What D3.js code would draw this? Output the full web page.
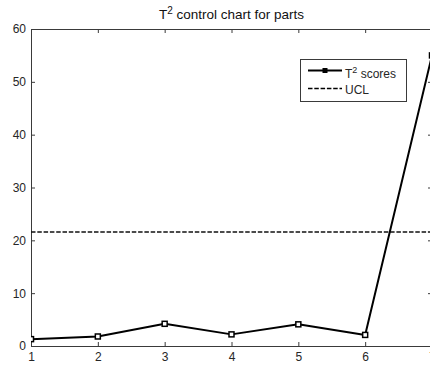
<!DOCTYPE html>
<html>
<head>
<meta charset="utf-8">
<script src="https://cdn.jsdelivr.net/npm/d3@7"></script>
<style>
  html, body { margin: 0; padding: 0; background: #fff; }
  svg { display: block; font-family: "Liberation Sans", Arial, sans-serif; }
</style>
</head>
<body>
<svg id="chart" width="430" height="366"></svg>
<script>
// Sample numbers and their Hotelling T² statistics
const samples = [1, 2, 3, 4, 5, 6, 7];
const t2Scores = [1.3, 1.8, 4.2, 2.2, 4.1, 2.1, 55.0];
// Upper control limit
const uclValue = 21.6;
// Axis ticks
const xTicks = [1, 2, 3, 4, 5, 6, 7];
const yTicks = [0, 10, 20, 30, 40, 50, 60];

const svg = d3.select("#chart");
const margin = { left: 31, right: 432, top: 29, bottom: 346 };
const axisColor = "#3a3a3a";
const textColor = "#262626";

const x = d3.scaleLinear().domain([1, 7]).range([margin.left, margin.right]);
const y = d3.scaleLinear().domain([0, 60]).range([margin.bottom, margin.top]);

// Clip region for plotted data
svg.append("defs").append("clipPath").attr("id", "plotClip")
  .append("rect")
  .attr("x", margin.left).attr("y", margin.top)
  .attr("width", margin.right - margin.left)
  .attr("height", margin.bottom - margin.top);

// Axes box: bottom/left with labels, top/right with inward ticks only
const tickLen = 4;
const bottomAxis = d3.axisBottom(x).tickValues(xTicks).tickFormat(d3.format("d"))
  .tickSizeInner(-tickLen).tickSizeOuter(0).tickPadding(6.5);
const leftAxis = d3.axisLeft(y).tickValues(yTicks).tickFormat(d3.format("d"))
  .tickSizeInner(-tickLen).tickSizeOuter(0).tickPadding(5);
const topAxis = d3.axisTop(x).tickValues(xTicks).tickFormat("")
  .tickSizeInner(-tickLen).tickSizeOuter(0);
const rightAxis = d3.axisRight(y).tickValues(yTicks).tickFormat("")
  .tickSizeInner(-tickLen).tickSizeOuter(0);

function styleAxis(g) {
  g.select(".domain").attr("stroke", axisColor).attr("stroke-width", 1);
  g.selectAll(".tick line").attr("stroke", axisColor).attr("stroke-width", 1);
  g.selectAll(".tick text").attr("fill", textColor).style("font-size", "12px")
    .style("font-family", "'Liberation Sans', Arial, sans-serif");
}

svg.append("g").attr("transform", `translate(0,${margin.bottom})`).call(bottomAxis).call(styleAxis);
svg.append("g").attr("transform", `translate(${margin.left},0)`).call(leftAxis).call(styleAxis);
svg.append("g").attr("transform", `translate(0,${margin.top})`).call(topAxis).call(styleAxis);
svg.append("g").attr("transform", `translate(${margin.right},0)`).call(rightAxis).call(styleAxis);

const plot = svg.append("g").attr("clip-path", "url(#plotClip)");

// UCL dashed line
plot.append("line")
  .attr("x1", x(1)).attr("x2", x(7))
  .attr("y1", y(uclValue)).attr("y2", y(uclValue))
  .attr("stroke", "#111").attr("stroke-width", 1.5)
  .attr("stroke-dasharray", "4.5,1.8");

// T² scores line with square markers
const line = d3.line().x((d, i) => x(samples[i])).y(d => y(d));
plot.append("path")
  .datum(t2Scores)
  .attr("d", line)
  .attr("fill", "none")
  .attr("stroke", "#000")
  .attr("stroke-width", 2)
  .attr("stroke-linejoin", "round");

const ms = 5;
plot.selectAll("rect.marker")
  .data(t2Scores)
  .join("rect")
  .attr("class", "marker")
  .attr("x", (d, i) => x(samples[i]) - ms / 2)
  .attr("y", d => y(d) - ms / 2)
  .attr("width", ms).attr("height", ms)
  .attr("fill", "#fff").attr("stroke", "#000").attr("stroke-width", 1.5);

// Title
const title = svg.append("text")
  .attr("x", (margin.left + margin.right) / 2)
  .attr("y", 19)
  .attr("text-anchor", "middle")
  .attr("fill", "#111")
  .style("font-size", "13.5px");
title.append("tspan").text("T");
title.append("tspan").attr("dy", -5.5).style("font-size", "10px").text("2");
title.append("tspan").attr("dy", 5.5).text(" control chart for parts");

// Legend
const legend = svg.append("g");
legend.append("rect")
  .attr("x", 300.5).attr("y", 59.5).attr("width", 106).attr("height", 42)
  .attr("fill", "#fff").attr("stroke", axisColor).attr("stroke-width", 1);

legend.append("line")
  .attr("x1", 308).attr("x2", 342).attr("y1", 70.5).attr("y2", 70.5)
  .attr("stroke", "#000").attr("stroke-width", 2);
legend.append("rect")
  .attr("x", 325 - 2).attr("y", 70.5 - 2).attr("width", 4).attr("height", 4)
  .attr("fill", "#000").attr("stroke", "#000").attr("stroke-width", 1);
const l1 = legend.append("text")
  .attr("x", 345).attr("y", 78).attr("fill", textColor).style("font-size", "12px");
l1.append("tspan").text("T");
l1.append("tspan").attr("dy", -5).style("font-size", "9px").text("2");
l1.append("tspan").attr("dy", 5).text(" scores");

legend.append("line")
  .attr("x1", 308).attr("x2", 342).attr("y1", 88.5).attr("y2", 88.5)
  .attr("stroke", "#000").attr("stroke-width", 1.5)
  .attr("stroke-dasharray", "4.5,1.8");
legend.append("text")
  .attr("x", 345).attr("y", 93.5).attr("fill", textColor).style("font-size", "12px")
  .text("UCL");
</script>
</body>
</html>
